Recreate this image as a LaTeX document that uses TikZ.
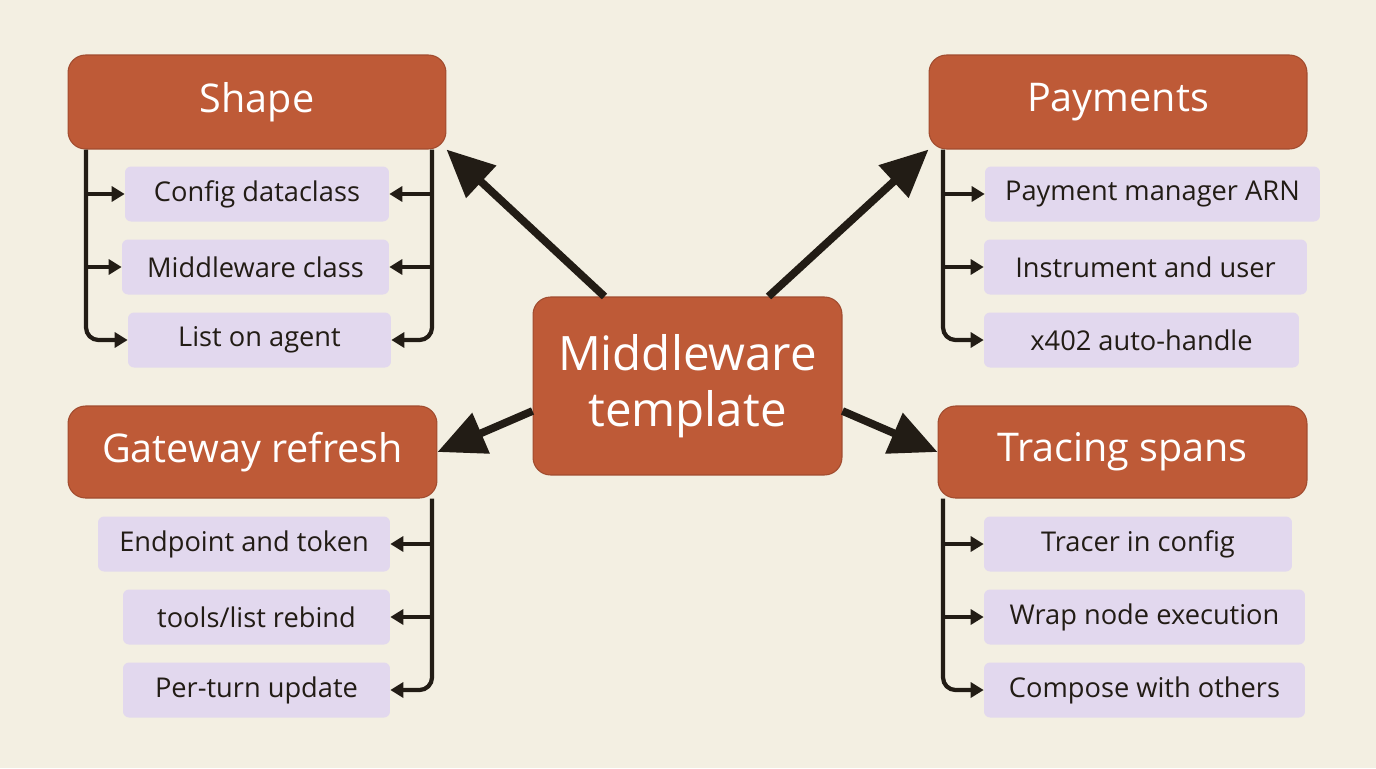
\documentclass[tikz,border=0pt]{standalone}
\usepackage{fontspec}
\setmainfont{Open Sans}
\usetikzlibrary{arrows.meta}
\definecolor{bgcream}{HTML}{F3EFE2}
\definecolor{rust}{HTML}{BE5A37}
\definecolor{lilac}{HTML}{E2D8EE}
\definecolor{ink}{HTML}{221C15}
\tikzset{
  head/.style={fill=rust, draw=rust!85!black, line width=0.6pt, rounded corners=0.35cm, minimum width=#1, minimum height=1.88cm, text=white, font=\fontsize{22.5}{24}\selectfont},
  item/.style={fill=lilac, rounded corners=0.12cm, minimum width=#1, minimum height=1.1cm, text=ink, font=\fontsize{15.5}{17}\selectfont},
  brk/.style={draw=ink, line width=2.4pt, rounded corners=0.25cm, -{Triangle[length=0.26cm,width=0.3cm]}},
  big/.style={draw=ink, line width=4.4pt, -{Triangle[length=0.95cm,width=0.85cm]}}
}
\begin{document}
\begin{tikzpicture}[x=0.02cm,y=-0.02cm]
  \fill[bgcream] (0,0) rectangle (1376,768);
  % centre
  \node[head=6.18cm, minimum height=3.56cm, align=center, font=\fontsize{27}{32}\selectfont] (mid) at (687.5,386) {Middleware\\template};
  % headers
  \node[head=7.56cm] (shape) at (257,102) {Shape};
  \node[head=7.56cm] (pay) at (1118,102) {Payments};
  \node[head=7.38cm, minimum height=1.84cm] (gate) at (252.5,452) {Gateway refresh};
  \node[head=7.38cm, minimum height=1.84cm] (trace) at (1122.5,452) {Tracing spans};
  % items
  \node[item=5.28cm] (s1) at (257,194) {Config dataclass};
  \node[item=5.34cm] (s2) at (255.5,267) {Middleware class};
  \node[item=5.26cm] (s3) at (259.5,340) {List on agent};
  \node[item=6.7cm] (p1) at (1152.5,194) {Payment manager ARN};
  \node[item=6.46cm] (p2) at (1145.5,267) {Instrument and user};
  \node[item=6.3cm] (p3) at (1141.5,340) {x402 auto-handle};
  \node[item=5.84cm] (g1) at (244,544) {Endpoint and token};
  \node[item=5.34cm] (g2) at (256.5,617) {tools/list rebind};
  \node[item=5.34cm] (g3) at (256.5,690) {Per-turn update};
  \node[item=6.16cm] (t1) at (1138,544) {Tracer in config};
  \node[item=6.42cm] (t2) at (1144.5,617) {Wrap node execution};
  \node[item=6.42cm] (t3) at (1144.5,690) {Compose with others};
  % bracket rails
  \coordinate (sl) at (86,0);
  \coordinate (sr) at (432,0);
  \coordinate (pl) at (943,0);
  \coordinate (gr) at (432,0);
  \coordinate (tl) at (943,0);
  \draw[brk] (shape.south -| sl) |- (s3.west);
  \draw[brk] (s1.west -| sl) -- (s1.west);
  \draw[brk] (s2.west -| sl) -- (s2.west);
  \draw[brk] (shape.south -| sr) |- (s3.east);
  \draw[brk] (s1.east -| sr) -- (s1.east);
  \draw[brk] (s2.east -| sr) -- (s2.east);
  \draw[brk] (pay.south -| pl) |- (p3.west);
  \draw[brk] (p1.west -| pl) -- (p1.west);
  \draw[brk] (p2.west -| pl) -- (p2.west);
  \draw[brk] (gate.south -| gr) |- (g3.east);
  \draw[brk] (g1.east -| gr) -- (g1.east);
  \draw[brk] (g2.east -| gr) -- (g2.east);
  \draw[brk] (trace.south -| tl) |- (t3.west);
  \draw[brk] (t1.west -| tl) -- (t1.west);
  \draw[brk] (t2.west -| tl) -- (t2.west);
  % main arrows
  \draw[big] (mid.north west) ++(72,0) coordinate (a1) -- (shape.south east);
  \draw[big] (mid.north east) ++(-74,0) coordinate (a2) -- (pay.south west);
  \draw[big] (mid.west) ++(0,25) coordinate (a3) -- (gate.east);
  \draw[big] (mid.east) ++(0,25) coordinate (a4) -- (trace.west);
\end{tikzpicture}
\end{document}
